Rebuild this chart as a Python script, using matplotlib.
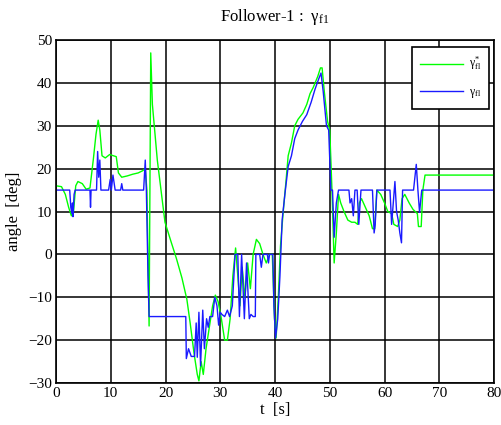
import numpy as np
import matplotlib
matplotlib.use("Agg")
import matplotlib.pyplot as plt

plt.rcParams['font.family'] = 'Liberation Serif'
plt.rcParams['mathtext.fontset'] = 'custom'
plt.rcParams['mathtext.rm'] = 'Liberation Serif'
plt.rcParams['mathtext.it'] = 'Liberation Serif:italic'

# reference heading gamma*_f1 (green)
t_ref = [0, 1, 1.7, 2.3, 2.8, 3.2, 3.6, 4.0, 4.8, 5.5, 6.2, 6.8, 7.3, 7.7, 8.0, 8.4,
         9.0, 9.8, 10.5, 11.0, 11.4, 12.0, 13.0, 14.0, 15.0, 15.8, 16.3, 16.6, 17.0,
         17.3, 17.6, 18.5, 19.9, 21, 22, 23, 23.9, 24.5, 25.2, 25.8, 26.1, 26.5, 26.9,
         27.4, 28.0, 28.6, 29.1, 29.6, 30.2, 30.8, 31.3, 31.8, 32.3, 32.8, 33.2, 33.6,
         34.0, 34.5, 35.0, 35.5, 36.0, 36.6, 37.2, 37.8, 38.4, 39.0, 39.5, 39.9, 40.2,
         40.6, 41.0, 41.5, 42.0, 42.4, 43.0, 43.6, 44.2, 45.1, 45.8, 46.4, 47.0, 47.8,
         48.3, 48.6, 49.0, 49.6, 50.0, 50.4, 50.8, 51.2, 51.6, 52.0, 52.6, 53.3, 54.0,
         54.6, 55.1, 55.4, 55.8, 56.5, 57.2, 57.8, 58.2, 58.6, 59.3, 60.0, 60.6, 61.3,
         61.7, 62.4, 62.8, 63.2, 63.7, 64.5, 65.2, 66.0, 66.2, 66.7, 67.0, 67.4, 80]
g_ref = [16, 15.8, 14, 11, 9, 10, 16, 17, 16.5, 15.2, 15.5, 22, 28, 31.3, 29, 23,
         22.5, 23.3, 23, 22.8, 19, 18, 18.3, 18.7, 19, 19.5, 20, 15, -16.7,
         47, 35, 22, 7.5, 3, -1, -5.5, -10.5, -16, -23, -28, -29.5, -25, -28,
         -22, -17, -12, -9.5, -11, -15, -20, -20, -15, -5, 1.5, -5, -12,
         -3, -10, -2, -8, 0, 3.5, 2.5, 0, -2, 0, 0, -15, -19.5,
         -10, 2, 10, 17, 23, 26, 30, 31.5, 33, 35, 37.5, 39, 41.5,
         43.5, 43.5, 38, 31, 29, 15, -2, 5, 14, 12, 10, 8, 7.5,
         7.5, 7, 12, 13, 11, 9, 6, 6, 15, 14, 12, 10, 9.5,
         7, 6.5, 8, 13, 14, 12, 10.5, 9.5, 6.5, 6.5, 15, 18.5, 18.5]

# actual heading gamma_f1 (blue)
t_act = [0, 2.5, 2.7, 2.9, 3.0, 3.1, 3.3, 3.5, 6.2, 6.3, 6.4, 7.4, 7.6, 7.8, 8.0, 8.2,
         9.6, 9.9, 10.1, 10.4, 10.8, 11.8, 12.0, 12.2, 16.0, 16.3, 16.5, 16.8, 17.0,
         23.7, 23.8, 24.2, 24.7, 25.3, 25.6, 25.8, 26.1, 26.4, 26.8, 27.1, 27.5, 27.8,
         28.1, 28.6, 29.0, 29.4, 29.7, 30.0, 30.3, 30.8, 31.3, 31.7, 32.2, 32.7, 33.2,
         33.5, 33.9, 34.4, 34.8, 35.3, 35.6, 36.0, 36.4, 36.5, 37.2, 37.5, 37.8, 38.6,
         38.8, 39.0, 39.6, 39.8, 40.1, 40.5, 40.9, 41.3, 41.8, 42.4, 43.0, 43.6, 44.2,
         45.0, 45.8, 46.6, 47.3, 48.0, 48.4, 48.8, 49.4, 49.8, 50.2, 50.5, 50.8, 51.2,
         51.6, 53.5, 53.7, 54.0, 54.3, 54.6, 55.0, 55.3, 55.7, 57.8, 58.1, 58.3, 58.6,
         61.0, 61.3, 61.6, 61.9, 62.2, 62.5, 62.8, 63.1, 63.3, 65.3, 65.8, 66.1, 66.4,
         66.8, 80]
g_act = [15, 15, 11, 9.5, 12, 8.8, 14, 15, 15, 11, 15, 15, 24, 18, 22, 15,
         15, 17.5, 15, 18.5, 15, 15, 16.5, 15, 15, 22, 15, -5, -14.5,
         -14.5, -24.3, -22, -23.8, -23.8, -16, -24, -13.5, -26, -13, -22, -15, -17,
         -14.5, -14.5, -10, -12, -16.5, -13.5, -14, -14.5, -13, -14.5, -12, 0, 0,
         -14.5, 0, -15, -2, -15, -14, -14.5, -14.5, 0, 0, -3, 0, 0,
         -2, 0, 0, -12, -19.5, -15, -5, 8, 14, 20.5, 23, 27, 29,
         31, 32.6, 35.5, 38.5, 41, 42.3, 38, 30, 29, 15, 15, 4, 12,
         15, 15, 12, 13, 9, 15, 15, 7, 15, 15, 5, 7, 15,
         15, 7, 12, 17, 10, 8, 5, 2.7, 15, 15, 21, 15, 9.8,
         15, 15]

fig = plt.figure(figsize=(5.02, 4.25), dpi=100)
ax = fig.add_axes([0.1116, 0.0988, 0.8725, 0.807])

ax.plot(t_ref, g_ref, color=(0, 1, 0), lw=1.0, label='γ$^{*}_{\\rm fl}$')
ax.plot(t_act, g_act, color=(0.1, 0.1, 1), lw=1.0, label='γ$_{\\rm fl}$')

ax.set_xlim(0, 80)
ax.set_ylim(-30, 50)
ax.set_xticks(np.arange(0, 81, 10))
ax.set_yticks(np.arange(-30, 51, 10))
ax.grid(True, color='black', lw=1.1)
ax.tick_params(length=0, labelsize=11, pad=3)
for s in ax.spines.values():
    s.set_linewidth(1.2)

ax.set_title('Follower-1 :  γ$_{\\rm f1}$', fontsize=12, pad=14)
ax.set_xlabel('t  [s]', fontsize=12, labelpad=1)
ax.set_ylabel('angle  [deg]', fontsize=12, labelpad=4)

leg = ax.legend(loc='upper right', fontsize=8.5, fancybox=False, framealpha=1,
                edgecolor='black', handlelength=3.6, handletextpad=0.5,
                borderpad=0.7, labelspacing=1.1, borderaxespad=0,
                bbox_to_anchor=(0.989, 0.98))
leg.get_frame().set_linewidth(1.2)

fig.savefig('out.png', dpi=100)
